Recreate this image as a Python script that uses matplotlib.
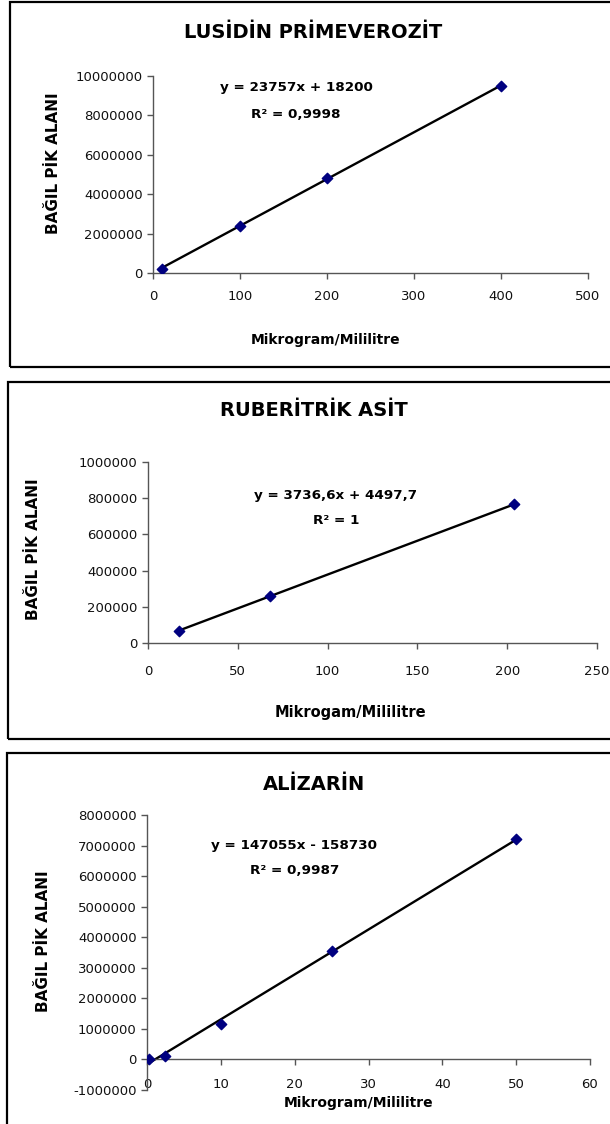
import matplotlib
matplotlib.use('Agg')
import matplotlib.pyplot as plt
from matplotlib.patches import Rectangle
import numpy as np

# veriler
lusidin_x = [10, 100, 200, 400]
lusidin_y = [220000, 2400000, 4830000, 9500000]
lusidin_trend = [23757, 18200]

ruberitrik_x = [17, 68, 204]
ruberitrik_y = [68000, 258000, 767000]
ruberitrik_trend = [3736.6, 4497.7]

alizarin_x = [0.25, 2.5, 10, 25, 50]
alizarin_y = [30000, 120000, 1170000, 3550000, 7230000]
alizarin_trend = [147055, -158730]

basliklar = ['LUSİDİN PRİMEVEROZİT', 'RUBERİTRİK ASİT', 'ALİZARİN']
denklemler = ['y = 23757x + 18200', 'y = 3736,6x + 4497,7', 'y = 147055x - 158730']
r2_yazilari = ['R² = 0,9998', 'R² = 1', 'R² = 0,9987']
x_etiketleri = ['Mikrogram/Mililitre', 'Mikrogam/Mililitre', 'Mikrogram/Mililitre']
y_etiketi = 'BAĞIL PİK ALANI'

W, H = 610, 1124
fig = plt.figure(figsize=(W / 100, H / 100), dpi=100)
plt.rcParams['font.family'] = ['DejaVu Sans']


def yazi(x, y, s, **kw):
    fig.text(x / W, 1 - y / H, s, ha='center', va='center', **kw)


def cerceve(x0, y0, y1):
    # sag kenar resmin disinda kaliyor
    fig.patches.append(Rectangle((x0 / W, 1 - y1 / H), (640 - x0) / W, (y1 - y0) / H,
                                 transform=fig.transFigure, fill=False,
                                 lw=1.6, ec='black'))


def panel(kutu, xs, ys, trend, xlim, xticks, ylim, yticks, xpad):
    x0, x1, ytop, ybot = kutu
    ax = fig.add_axes([x0 / W, 1 - ybot / H, (x1 - x0) / W, (ybot - ytop) / H])
    a, b = trend
    xx = np.array([min(xs), max(xs)])
    ax.plot(xx, a * xx + b, color='black', lw=1.7, zorder=2)
    ax.scatter(xs, ys, marker='D', s=28, color='#000080', zorder=3)
    ax.set_xlim(*xlim)
    ax.set_ylim(*ylim)
    ax.set_xticks(xticks)
    ax.set_yticks(yticks)
    ax.set_yticklabels([str(v) for v in yticks])
    ax.set_xticklabels([str(v) for v in xticks])
    for k in ['top', 'right']:
        ax.spines[k].set_visible(False)
    for k in ['left', 'bottom']:
        ax.spines[k].set_color('#555555')
        ax.spines[k].set_linewidth(1.0)
    ax.tick_params(axis='y', direction='out', length=4.5, width=1, color='#555555',
                   labelsize=9.5, pad=3, labelcolor='#111111')
    ax.tick_params(axis='x', direction='out', length=4, width=1, color='#555555',
                   labelsize=9.5, pad=xpad, labelcolor='#111111')
    ax.patch.set_alpha(0)
    return ax


# 1. panel
cerceve(10, 2, 367)
panel((153, 588, 76, 273), lusidin_x, lusidin_y, lusidin_trend,
      (0, 500), [0, 100, 200, 300, 400, 500],
      (0, 10000000), [0, 2000000, 4000000, 6000000, 8000000, 10000000], 8.5)
yazi(313, 33, basliklar[0], fontsize=14, fontweight='bold')
yazi(296, 88, denklemler[0], fontsize=9.7, fontweight='bold')
yazi(296, 115, r2_yazilari[0], fontsize=9.7, fontweight='bold')
yazi(54, 163, y_etiketi, fontsize=11, fontweight='bold', rotation=90)
yazi(326, 340, x_etiketleri[0], fontsize=10, fontweight='bold')

# 2. panel
cerceve(8, 382, 739)
panel((148, 597, 462, 643), ruberitrik_x, ruberitrik_y, ruberitrik_trend,
      (0, 250), [0, 50, 100, 150, 200, 250],
      (0, 1000000), [0, 200000, 400000, 600000, 800000, 1000000], 11.5)
yazi(314, 411, basliklar[1], fontsize=14, fontweight='bold')
yazi(336, 495, denklemler[1], fontsize=9.7, fontweight='bold')
yazi(336, 520, r2_yazilari[1], fontsize=9.7, fontweight='bold')
yazi(34, 549, y_etiketi, fontsize=11, fontweight='bold', rotation=90)
yazi(350, 712, x_etiketleri[1], fontsize=10.5, fontweight='bold')

# 3. panel (x ekseni y=0 uzerinde)
cerceve(7, 753, 1140)
ax3 = panel((147, 590, 815, 1090), alizarin_x, alizarin_y, alizarin_trend,
            (0, 60), [0, 10, 20, 30, 40, 50, 60],
            (-1000000, 8000000), list(range(-1000000, 8000001, 1000000)), 9)
ax3.spines['bottom'].set_position(('data', 0))
yazi(314, 784, basliklar[2], fontsize=14, fontweight='bold')
yazi(294, 845, denklemler[2], fontsize=9.7, fontweight='bold')
yazi(295, 870, r2_yazilari[2], fontsize=9.7, fontweight='bold')
yazi(44, 941, y_etiketi, fontsize=11, fontweight='bold', rotation=90)
yazi(359, 1103, x_etiketleri[2], fontsize=10, fontweight='bold')

fig.savefig('out.png', dpi=100)
